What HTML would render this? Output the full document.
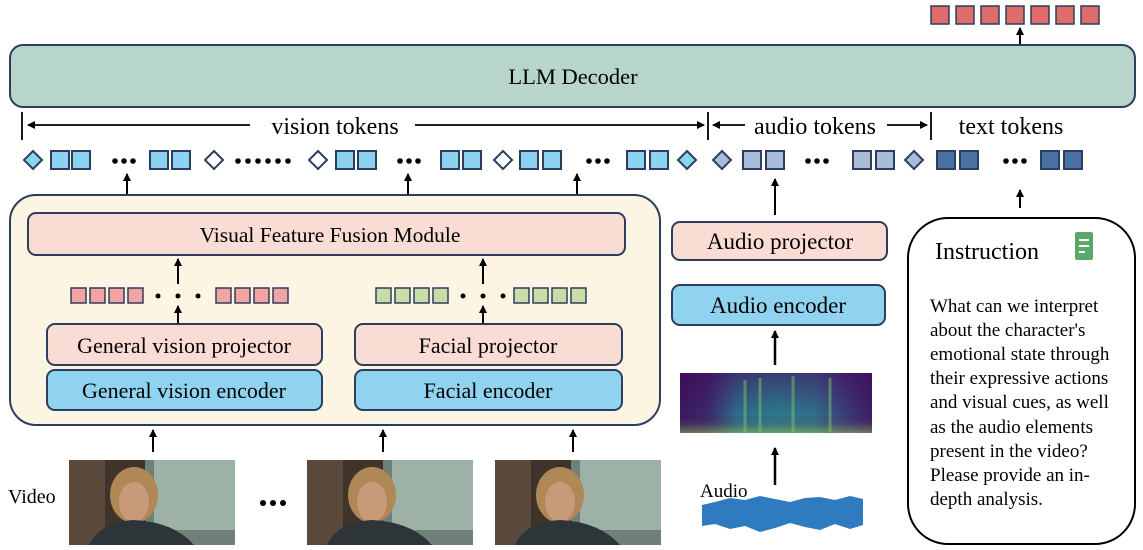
<!DOCTYPE html>
<html><head><meta charset="utf-8"><style>
html,body{margin:0;padding:0;background:#fff;}
svg{display:block;font-family:"Liberation Serif",serif;}
</style></head><body>
<svg width="1143" height="550" viewBox="0 0 1143 550" xmlns="http://www.w3.org/2000/svg">
<defs>
<marker id="ah" markerWidth="8" markerHeight="8" refX="7" refY="4" orient="auto" markerUnits="userSpaceOnUse"><path d="M0,0 L8,4 L0,8 Z" fill="#000"/></marker>
<linearGradient id="spec" x1="0" x2="1" y1="0" y2="0">
<stop offset="0" stop-color="#3b1a5e"/><stop offset="0.15" stop-color="#3b2a6e"/><stop offset="0.3" stop-color="#2f6e8a"/><stop offset="0.5" stop-color="#2b7a8c"/><stop offset="0.7" stop-color="#32708a"/><stop offset="0.85" stop-color="#3a3f7c"/><stop offset="1" stop-color="#3b1f66"/></linearGradient>
<linearGradient id="specv" x1="0" x2="0" y1="0" y2="1"><stop offset="0" stop-color="#440154" stop-opacity="0.5"/><stop offset="0.7" stop-color="#440154" stop-opacity="0"/><stop offset="1" stop-color="#9ad94a" stop-opacity="0.5"/></linearGradient>
<g id="frame">
<rect x="0" y="0" width="166" height="85" fill="#6e8078"/>
<rect x="0" y="0" width="36" height="85" fill="#5a4a3e"/>
<rect x="36" y="0" width="40" height="85" fill="#40342a"/>
<rect x="85" y="0" width="81" height="70" fill="#a9bdb2" opacity="0.8"/>
<ellipse cx="65" cy="35" rx="24" ry="28" fill="#b08858"/>
<ellipse cx="65" cy="42" rx="15" ry="20" fill="#c99a7a"/>
<path d="M20,85 Q30,62 65,60 Q105,62 125,85 Z" fill="#2e3538"/>
</g>
</defs>

<g fill="#e06b6b" stroke="#2c3e5c" stroke-width="1.5">
<rect x="931" y="6" width="18" height="18"/><rect x="956" y="6" width="18" height="18"/><rect x="981" y="6" width="18" height="18"/><rect x="1006" y="6" width="18" height="18"/><rect x="1031" y="6" width="18" height="18"/><rect x="1056" y="6" width="18" height="18"/><rect x="1081" y="6" width="18" height="18"/>
</g>
<line x1="1020" y1="44" x2="1020" y2="28" stroke="#000" stroke-width="2" marker-end="url(#ah)"/>

<rect x="10" y="45" width="1125" height="62" rx="13" fill="#b7d5c8" stroke="#2c3e5c" stroke-width="2"/>
<text x="573" y="84" font-size="22.5" text-anchor="middle">LLM Decoder</text>

<g stroke="#000" stroke-width="1.8">
<line x1="22" y1="112" x2="22" y2="140"/>
<line x1="708" y1="112" x2="708" y2="140"/>
<line x1="931" y1="112" x2="931" y2="140"/>
<line x1="250" y1="125" x2="28" y2="125" marker-end="url(#ah)"/>
<line x1="415" y1="125" x2="704" y2="125" marker-end="url(#ah)"/>
<line x1="745" y1="125" x2="713" y2="125" marker-end="url(#ah)"/>
<line x1="887" y1="125" x2="927" y2="125" marker-end="url(#ah)"/>
</g>
<text x="335" y="134" font-size="24" text-anchor="middle">vision tokens</text>
<text x="815" y="134" font-size="24" text-anchor="middle">audio tokens</text>
<text x="1011" y="134" font-size="24" text-anchor="middle">text tokens</text>

<g stroke="#2c3e5c" stroke-width="2">
<g fill="#8dd2f0">
<path d="M33,151 L42,160 L33,169 L24,160 Z"/>
<rect x="51" y="151" width="18" height="18"/><rect x="72" y="151" width="18" height="18"/>
<rect x="150" y="151" width="18" height="18"/><rect x="172" y="151" width="18" height="18"/>
<rect x="336" y="151" width="18" height="18"/><rect x="358" y="151" width="18" height="18"/>
<rect x="441" y="151" width="18" height="18"/><rect x="463" y="151" width="18" height="18"/>
<rect x="520" y="151" width="18" height="18"/><rect x="543" y="151" width="18" height="18"/>
<rect x="627" y="151" width="18" height="18"/><rect x="650" y="151" width="18" height="18"/>
<path d="M687,151 L696,160 L687,169 L678,160 Z"/>
</g>
<g fill="#fff">
<path d="M214,151 L223,160 L214,169 L205,160 Z"/>
<path d="M318,151 L327,160 L318,169 L309,160 Z"/>
<path d="M503,151 L512,160 L503,169 L494,160 Z"/>
</g>
<g fill="#a9bcdc">
<path d="M722,151 L731,160 L722,169 L713,160 Z"/>
<rect x="743" y="151" width="18" height="18"/><rect x="766" y="151" width="18" height="18"/>
<rect x="853" y="151" width="18" height="18"/><rect x="876" y="151" width="18" height="18"/>
<path d="M914,151 L923,160 L914,169 L905,160 Z"/>
</g>
<g fill="#4a70a6">
<rect x="937" y="151" width="18" height="18"/><rect x="960" y="151" width="18" height="18"/>
<rect x="1041" y="151" width="18" height="18"/><rect x="1064" y="151" width="18" height="18"/>
</g>
</g>
<g fill="#000">
<circle cx="115" cy="161" r="2.8"/><circle cx="124" cy="161" r="2.8"/><circle cx="133" cy="161" r="2.8"/>
<circle cx="238" cy="161" r="2.8"/><circle cx="248" cy="161" r="2.8"/><circle cx="258" cy="161" r="2.8"/><circle cx="268" cy="161" r="2.8"/><circle cx="278" cy="161" r="2.8"/><circle cx="288" cy="161" r="2.8"/>
<circle cx="400" cy="161" r="2.8"/><circle cx="409" cy="161" r="2.8"/><circle cx="418" cy="161" r="2.8"/>
<circle cx="589" cy="161" r="2.8"/><circle cx="598" cy="161" r="2.8"/><circle cx="607" cy="161" r="2.8"/>
<circle cx="808" cy="161" r="2.8"/><circle cx="817" cy="161" r="2.8"/><circle cx="826" cy="161" r="2.8"/>
<circle cx="1006" cy="161" r="2.8"/><circle cx="1015" cy="161" r="2.8"/><circle cx="1024" cy="161" r="2.8"/>
</g>

<g stroke="#000" stroke-width="2">
<line x1="127" y1="197" x2="127" y2="174" marker-end="url(#ah)"/>
<line x1="408" y1="197" x2="408" y2="174" marker-end="url(#ah)"/>
<line x1="577" y1="197" x2="577" y2="174" marker-end="url(#ah)"/>
<line x1="775" y1="215" x2="775" y2="179" marker-end="url(#ah)"/>
<line x1="1020" y1="208" x2="1020" y2="190" marker-end="url(#ah)"/>
</g>

<rect x="10" y="195" width="650" height="230" rx="26" fill="#fdf5e3" stroke="#2c3e5c" stroke-width="2"/>
<rect x="28" y="213" width="597" height="42" rx="8" fill="#f9dcd3" stroke="#2c3e5c" stroke-width="2"/>
<text x="330" y="242" font-size="21.5" text-anchor="middle">Visual Feature Fusion Module</text>
<g stroke="#000" stroke-width="2">
<line x1="178" y1="284" x2="178" y2="259" marker-end="url(#ah)"/>
<line x1="483" y1="284" x2="483" y2="259" marker-end="url(#ah)"/>
<line x1="178" y1="325" x2="178" y2="306" marker-end="url(#ah)"/>
<line x1="483" y1="325" x2="483" y2="306" marker-end="url(#ah)"/>
</g>
<g stroke="#2c3e5c" stroke-width="1.5" fill="#f2a3a3">
<rect x="71" y="288" width="15" height="15"/><rect x="90" y="288" width="15" height="15"/><rect x="109" y="288" width="15" height="15"/><rect x="128" y="288" width="15" height="15"/>
<rect x="216" y="288" width="15" height="15"/><rect x="235" y="288" width="15" height="15"/><rect x="254" y="288" width="15" height="15"/><rect x="273" y="288" width="15" height="15"/>
</g>
<g stroke="#2c3e5c" stroke-width="1.5" fill="#cadda9">
<rect x="376" y="288" width="15" height="15"/><rect x="395" y="288" width="15" height="15"/><rect x="414" y="288" width="15" height="15"/><rect x="433" y="288" width="15" height="15"/>
<rect x="514" y="288" width="15" height="15"/><rect x="533" y="288" width="15" height="15"/><rect x="552" y="288" width="15" height="15"/><rect x="571" y="288" width="15" height="15"/>
</g>
<g fill="#000">
<circle cx="158" cy="296" r="2.5"/><circle cx="178" cy="296" r="2.5"/><circle cx="198" cy="296" r="2.5"/>
<circle cx="463" cy="296" r="2.5"/><circle cx="483" cy="296" r="2.5"/><circle cx="503" cy="296" r="2.5"/>
</g>
<rect x="47" y="324" width="275" height="41" rx="8" fill="#f9dcd3" stroke="#2c3e5c" stroke-width="2"/>
<text x="184" y="353" font-size="22" text-anchor="middle">General vision projector</text>
<rect x="355" y="324" width="267" height="41" rx="8" fill="#f9dcd3" stroke="#2c3e5c" stroke-width="2"/>
<text x="488" y="353" font-size="22" text-anchor="middle">Facial projector</text>
<rect x="47" y="370" width="275" height="40" rx="8" fill="#8fd3f0" stroke="#2c3e5c" stroke-width="2"/>
<text x="184" y="398" font-size="22" text-anchor="middle">General vision encoder</text>
<rect x="355" y="370" width="267" height="40" rx="8" fill="#8fd3f0" stroke="#2c3e5c" stroke-width="2"/>
<text x="488" y="398" font-size="22" text-anchor="middle">Facial encoder</text>

<g stroke="#000" stroke-width="2">
<line x1="153" y1="452" x2="153" y2="430" marker-end="url(#ah)"/>
<line x1="383" y1="452" x2="383" y2="430" marker-end="url(#ah)"/>
<line x1="573" y1="452" x2="573" y2="430" marker-end="url(#ah)"/>
</g>
<text x="8" y="503" font-size="20">Video</text>
<use href="#frame" x="69" y="460"/>
<use href="#frame" x="307" y="460"/>
<use href="#frame" x="495" y="460"/>
<g fill="#000"><circle cx="263" cy="503" r="3"/><circle cx="273" cy="503" r="3"/><circle cx="283" cy="503" r="3"/></g>

<rect x="672" y="222" width="215" height="38" rx="8" fill="#f9dcd3" stroke="#2c3e5c" stroke-width="2"/>
<text x="780" y="249" font-size="23" text-anchor="middle">Audio projector</text>
<rect x="672" y="285" width="213" height="40" rx="8" fill="#8fd3f0" stroke="#2c3e5c" stroke-width="2"/>
<text x="778" y="313" font-size="23" text-anchor="middle">Audio encoder</text>
<g stroke="#000" stroke-width="2.5">
<line x1="775" y1="365" x2="775" y2="331" marker-end="url(#ah)"/>
<line x1="775" y1="485" x2="775" y2="448" marker-end="url(#ah)"/>
</g>
<rect x="680" y="373" width="192" height="60" fill="url(#spec)"/>
<rect x="680" y="373" width="192" height="60" fill="url(#specv)"/>
<g stroke="#7fc46a" stroke-width="3" opacity="0.5">
<line x1="745" y1="380" x2="745" y2="432"/><line x1="760" y1="378" x2="760" y2="432"/><line x1="793" y1="376" x2="793" y2="432"/><line x1="830" y1="378" x2="830" y2="432"/>
</g>
<text x="700" y="497" font-size="19">Audio</text>
<path d="M702,505 L715,502 L730,498 L745,500 L760,496 L775,499 L790,502 L805,498 L820,497 L835,500 L850,496 L863,499 L863,525 L850,529 L835,524 L820,530 L805,527 L790,523 L775,528 L760,532 L745,526 L730,529 L715,524 L702,526 Z" fill="#2e7bbf"/>
<rect x="702" y="510" width="161" height="10" fill="#2e7bbf"/>

<rect x="908" y="218" width="227" height="326" rx="40" fill="#fff" stroke="#000" stroke-width="2"/>
<text x="935" y="259" font-size="24">Instruction</text>
<rect x="1075" y="232" width="18" height="28" rx="2" fill="#5aa86a"/>
<g stroke="#fff" stroke-width="2"><line x1="1079" y1="240" x2="1089" y2="240"/><line x1="1079" y1="246" x2="1089" y2="246"/><line x1="1079" y1="252" x2="1085" y2="252"/></g>
<g font-size="19">
<text x="930" y="312">What can we interpret</text>
<text x="930" y="336">about the character's</text>
<text x="930" y="360">emotional state through</text>
<text x="930" y="384">their expressive actions</text>
<text x="930" y="408">and visual cues, as well</text>
<text x="930" y="433">as the audio elements</text>
<text x="930" y="457">present in the video?</text>
<text x="930" y="481">Please provide an in-</text>
<text x="930" y="505">depth analysis.</text>
</g>
</svg>
</body></html>
